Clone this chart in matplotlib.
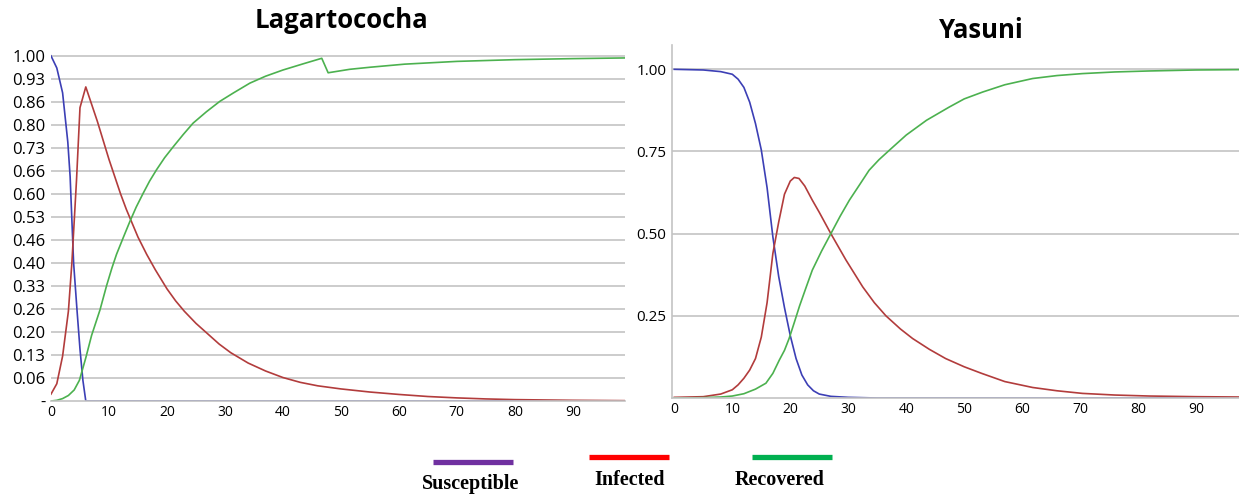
import matplotlib
matplotlib.use("Agg")
import matplotlib.pyplot as plt

# Lagartococha (left panel)
s_left_t = [0, 1, 2, 2.9, 3.3, 3.9, 4.5, 5.0, 5.5, 6.0, 20, 50, 99]
s_left = [1.0, 0.965, 0.893, 0.75, 0.65, 0.40, 0.26, 0.15, 0.06, 0.0, 0.0, 0.0, 0.0]

i_left_t = [0, 1, 2, 3, 3.6, 4.4, 5, 6, 7, 8, 9, 10, 11, 12, 13, 14, 15, 16.5, 18,
            20, 21.5, 23, 25, 27, 29, 31, 34, 37, 40, 43, 46, 50, 55, 60, 65, 70,
            75, 80, 90, 99]
i_left = [0.02, 0.05, 0.13, 0.26, 0.40, 0.64, 0.85, 0.91, 0.86, 0.81, 0.755, 0.70,
          0.65, 0.60, 0.555, 0.515, 0.475, 0.425, 0.38, 0.325, 0.29, 0.26, 0.225,
          0.195, 0.165, 0.14, 0.11, 0.087, 0.068, 0.054, 0.044, 0.035, 0.026,
          0.019, 0.013, 0.009, 0.006, 0.004, 0.002, 0.001]

r_left_t = [0, 1, 2, 3, 4, 4.9, 6, 7, 8.45, 9.6, 10.5, 11.3, 12.5, 13.6, 14.7, 15.9,
            17, 18.2, 19.6, 21.1, 22.8, 24.5, 26.8, 29.1, 31.5, 34.3, 37, 40, 43.5,
            46.7, 47.8, 51.5, 55, 61, 70, 80, 90, 99]
r_left = [0, 0.002, 0.007, 0.016, 0.032, 0.06, 0.125, 0.19, 0.264, 0.335, 0.385,
          0.425, 0.475, 0.52, 0.562, 0.602, 0.637, 0.67, 0.705, 0.737, 0.772, 0.805,
          0.838, 0.868, 0.893, 0.921, 0.941, 0.959, 0.977, 0.993, 0.951, 0.961,
          0.967, 0.976, 0.984, 0.989, 0.992, 0.994]

left_yticks = [k / 15 for k in range(16)]
left_ylabels = ['-', '0.06', '0.13', '0.20', '0.26', '0.33', '0.40', '0.46', '0.53',
                '0.60', '0.66', '0.73', '0.80', '0.86', '0.93', '1.00']

# Yasuni (right panel)
s_right_t = [0, 5, 8, 10, 11, 12, 13, 14, 15, 16, 17, 18, 19, 20, 21, 22, 23, 24,
             25, 27, 30, 35, 97.5]
s_right = [1.0, 0.998, 0.993, 0.985, 0.97, 0.945, 0.9, 0.835, 0.755, 0.64, 0.49,
           0.37, 0.275, 0.19, 0.12, 0.07, 0.04, 0.022, 0.012, 0.005, 0.002, 0.0, 0.0]

i_right_t = [0, 5, 8, 10, 11, 12, 13, 14, 15, 16, 17, 18, 19, 20, 20.7, 21.5, 22.5,
             23.8, 25, 27, 29.6, 32.5, 34.5, 36.5, 39, 41.1, 44, 46.8, 50, 53, 57,
             61.8, 66, 70.4, 76, 81.9, 90, 97.5]
i_right = [0.002, 0.004, 0.012, 0.025, 0.04, 0.06, 0.085, 0.12, 0.185, 0.29, 0.44,
           0.535, 0.62, 0.66, 0.671, 0.668, 0.645, 0.602, 0.565, 0.50, 0.42, 0.338,
           0.29, 0.25, 0.21, 0.181, 0.148, 0.12, 0.095, 0.075, 0.05, 0.032, 0.022,
           0.014, 0.009, 0.006, 0.004, 0.003]

r_right_t = [0, 5, 8, 10, 12, 14, 15.8, 17, 18.1, 19, 19.8, 20.7, 21.6, 22.7, 23.8,
             25.4, 27, 28.6, 30.2, 32, 33.6, 35.3, 37.1, 40, 43.5, 47.4, 50, 53.2,
             57, 61.8, 66, 70.4, 76, 81.9, 90, 97.5]
r_right = [0, 0.001, 0.003, 0.006, 0.013, 0.027, 0.045, 0.075, 0.115, 0.145, 0.181,
           0.23, 0.28, 0.335, 0.389, 0.447, 0.50, 0.553, 0.602, 0.65, 0.693, 0.725,
           0.754, 0.80, 0.845, 0.885, 0.91, 0.931, 0.953, 0.972, 0.981, 0.987,
           0.992, 0.995, 0.998, 0.999]

right_yticks = [0.25, 0.50, 0.75, 1.00]
xticks = [0, 10, 20, 30, 40, 50, 60, 70, 80, 90]

blue = '#3c3fb5'
red = '#b23c3c'
green = '#4cb14f'
grid = '#c3c3c3'

plt.rcParams['font.family'] = ['Open Sans', 'DejaVu Sans']

W, H = 1239, 494
fig = plt.figure(figsize=(W / 100, H / 100), dpi=100)


def box(x0, y0, x1, y1):
    # pixel box -> figure fraction
    return [x0 / W, 1 - y1 / H, (x1 - x0) / W, (y1 - y0) / H]


# left panel
ax1 = fig.add_axes(box(51, 50, 625, 401))
ax1.plot(s_left_t, s_left, color=blue, lw=1.2)
ax1.plot(i_left_t, i_left, color=red, lw=1.2)
ax1.plot(r_left_t, r_left, color=green, lw=1.2)
ax1.set_xlim(0, 99)
ax1.set_ylim(0, 1.017)
ax1.set_yticks(left_yticks)
ax1.set_yticklabels(left_ylabels)
ax1.set_xticks(xticks)
for y in left_yticks[1:]:
    ax1.axhline(y, color=grid, lw=1.2, zorder=0)
for side in ['top', 'right', 'left']:
    ax1.spines[side].set_visible(False)
ax1.spines['bottom'].set_color(grid)
ax1.spines['bottom'].set_linewidth(1.2)
ax1.tick_params(axis='y', length=0, pad=4, labelsize=12)
ax1.tick_params(axis='x', length=0, pad=3, labelsize=10)

# right panel
ax2 = fig.add_axes(box(672, 45, 1239, 398))
ax2.plot(s_right_t, s_right, color=blue, lw=1.2)
ax2.plot(i_right_t, i_right, color=red, lw=1.2)
ax2.plot(r_right_t, r_right, color=green, lw=1.2)
ax2.set_xlim(-0.4, 97.4)
ax2.set_ylim(0, 1.074)
ax2.set_yticks(right_yticks)
ax2.set_yticklabels(['0.25', '0.50', '0.75', '1.00'])
ax2.set_xticks(xticks)
for y in right_yticks:
    ax2.axhline(y, color=grid, lw=1.2, zorder=0)
for side in ['top', 'right']:
    ax2.spines[side].set_visible(False)
for side in ['left', 'bottom']:
    ax2.spines[side].set_color(grid)
    ax2.spines[side].set_linewidth(1.2)
ax2.tick_params(axis='y', length=0, pad=4, labelsize=11)
ax2.tick_params(axis='x', length=0, pad=3, labelsize=10)

# titles
fig.text(341 / W, 1 - 20 / H, 'Lagartococha', ha='center', va='center',
         fontsize=18.5, fontweight='bold')
fig.text(981 / W, 1 - 31 / H, 'Yasuni', ha='center', va='center',
         fontsize=18.5, fontweight='bold')

# legend drawn under the panels
legend_items = [('Susceptible', '#7030a0', 433, 513, 462, 471, 489),
                ('Infected', '#ff0000', 589, 669, 457, 630, 485),
                ('Recovered', '#00b050', 752, 832, 457, 780, 485)]
for name, col, lx0, lx1, ly, tx, ty in legend_items:
    fig.add_artist(plt.Line2D([lx0 / W, lx1 / W], [1 - ly / H, 1 - ly / H],
                              color=col, lw=3.8, solid_capstyle='butt',
                              transform=fig.transFigure))
    fig.text(tx / W, 1 - ty / H, name, ha='center', va='baseline',
             fontsize=14.5, fontweight='bold', family='Liberation Serif')

fig.savefig('out.png', dpi=100)
